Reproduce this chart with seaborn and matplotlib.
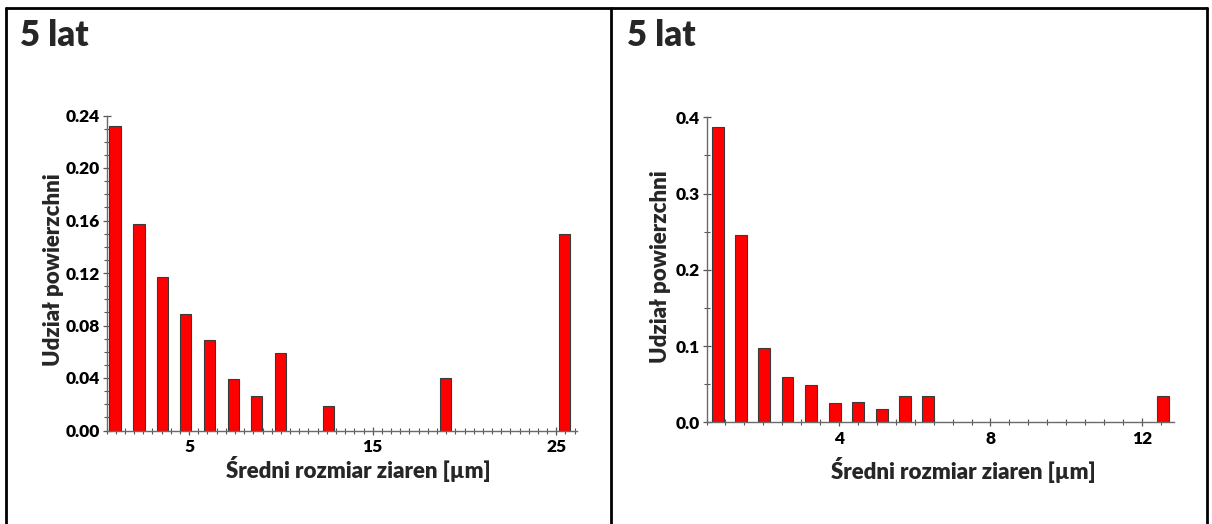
import numpy as np
import pandas as pd
import matplotlib
matplotlib.use("Agg")
import matplotlib.pyplot as plt
from matplotlib.lines import Line2D
from matplotlib.ticker import MultipleLocator, FixedLocator, FormatStrFormatter
import seaborn as sns

# Grain-size distributions (bin centres in µm, area fraction per bin)
left_size = [0.965, 2.27, 3.54, 4.82, 6.11, 7.42, 8.69, 9.97, 12.57, 18.98, 25.43]
left_share = [0.232, 0.157, 0.117, 0.089, 0.069, 0.039, 0.026, 0.059, 0.019, 0.040, 0.150]

right_size = [0.802, 1.405, 2.028, 2.641, 3.264, 3.888, 4.511, 5.124, 5.747, 6.36, 12.55]
right_share = [0.387, 0.246, 0.097, 0.060, 0.049, 0.025, 0.026, 0.017, 0.034, 0.035, 0.034]

panel_title = "5 lat"
x_label = "Średni rozmiar ziaren [µm]"
y_label = "Udział powierzchni"

left_yticks = [0.00, 0.04, 0.08, 0.12, 0.16, 0.20, 0.24]
left_xticks = [5, 15, 25]
right_yticks = [0.0, 0.1, 0.2, 0.3, 0.4]
right_xticks = [4, 8, 12]

sns.set_theme(style="white")
plt.rcParams["font.family"] = ["Lato", "DejaVu Sans"]
WEIGHT = "heavy"

W, H = 1212, 524
fig = plt.figure(figsize=(W / 100, H / 100), dpi=100)
fig.patch.set_facecolor("white")


def px_axes(x0, x1, ytop, ybot):
    return fig.add_axes([x0 / W, 1 - ybot / H, (x1 - x0) / W, (ybot - ytop) / H])


def draw_panel(ax, sizes, shares, xlim, ylim, xticks, yticks, yminor, yfmt, bar_w,
               xlab_pos, ylab_pos):
    df = pd.DataFrame({"size": sizes, "share": shares})
    sns.barplot(data=df, x="size", y="share", native_scale=True, width=bar_w,
                color="#ff0000", saturation=1, edgecolor="#3a3a3a",
                linewidth=0.8, ax=ax, zorder=3)
    ax.set_xlim(*xlim)
    ax.set_ylim(*ylim)
    ax.xaxis.set_major_locator(FixedLocator(xticks))
    ax.xaxis.set_minor_locator(MultipleLocator(0.5))
    ax.yaxis.set_major_locator(FixedLocator(yticks))
    ax.yaxis.set_minor_locator(MultipleLocator(yminor))
    ax.yaxis.set_major_formatter(FormatStrFormatter(yfmt))
    for s in ["top", "right"]:
        ax.spines[s].set_visible(False)
    for s in ["left", "bottom"]:
        ax.spines[s].set_color("#6a6a6a")
        ax.spines[s].set_linewidth(1.0)
        ax.spines[s].set_zorder(4)
    ax.tick_params(which="major", direction="inout", length=6, width=0.9,
                   color="#555555", labelsize=12.5, labelcolor="black")
    ax.tick_params(which="minor", direction="inout", length=4, width=0.8,
                   color="#555555")
    ax.tick_params(axis="y", which="major", pad=2)
    ax.tick_params(axis="x", which="major", pad=3)
    ax.tick_params(left=True, bottom=True, which="both")
    for lab in ax.get_xticklabels() + ax.get_yticklabels():
        lab.set_fontweight(WEIGHT)
    ax.set_xlabel(x_label, fontsize=16, fontweight=WEIGHT)
    ax.set_ylabel(y_label, fontsize=16, fontweight=WEIGHT)
    ax.xaxis.set_label_coords(*xlab_pos)
    ax.xaxis.label.set_va("center")
    ax.yaxis.set_label_coords(*ylab_pos)
    ax.yaxis.label.set_va("center")
    ax.set_facecolor("white")


ax1 = px_axes(106.5, 576.5, 115.5, 430.5)
draw_panel(ax1, left_size, left_share, (0.5, 26.1), (0, 0.24),
           left_xticks, left_yticks, 0.01, "%.2f", 0.48,
           (0.536, -0.122), (-0.113, 0.51))

ax2 = px_axes(706.5, 1173.7, 117.3, 422.3)
draw_panel(ax2, right_size, right_share, (0.5, 12.84), (0, 0.4),
           right_xticks, right_yticks, 0.05, "%.1f", 0.52,
           (0.549, -0.155), (-0.099, 0.509))

# Panel titles
for x_title in (20, 627):
    fig.text(x_title / W, 1 - 36 / H, panel_title, fontsize=25, fontweight=WEIGHT,
             ha="left", va="center")

# Table frame around the two panels
frame = dict(color="black", linewidth=2.0, transform=fig.transFigure)
fig.add_artist(Line2D([6 / W, 1207 / W], [1 - 8 / H, 1 - 8 / H], **frame))
for xp in (6, 611, 1207):
    fig.add_artist(Line2D([xp / W, xp / W], [0, 1 - 8 / H], **frame))

fig.savefig("out.png", dpi=100, facecolor="white")
